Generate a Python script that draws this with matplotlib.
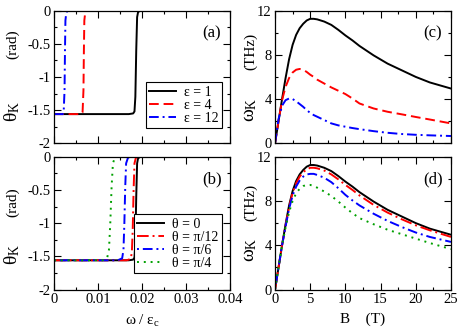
import matplotlib
matplotlib.use("Agg")
import matplotlib.pyplot as plt
from matplotlib.ticker import MultipleLocator

plt.rcParams['font.family'] = ['Liberation Serif', 'DejaVu Serif']
plt.rcParams['mathtext.fontset'] = 'custom'
plt.rcParams['mathtext.rm'] = 'Liberation Serif'
plt.rcParams['mathtext.it'] = 'Liberation Serif:italic'
plt.rcParams['axes.unicode_minus'] = False

# (a) Kerr angle vs frequency for several epsilon
w_e1 = [0, 0.0170, 0.0180, 0.0183, 0.0185, 0.0187, 0.0189, 0.0191, 0.0195, 0.04]
th_e1 = [-1.56, -1.56, -1.55, -1.52, -1.30, -0.60, -0.10, -0.03, 0, 0]
w_e4 = [0, 0.0062, 0.0065, 0.0067, 0.0068, 0.0069, 0.0071, 0.0074, 0.04]
th_e4 = [-1.56, -1.56, -1.53, -1.20, -0.60, -0.15, -0.03, 0, 0]
w_e12 = [0, 0.0020, 0.0022, 0.0024, 0.0025, 0.0026, 0.0028, 0.0031, 0.04]
th_e12 = [-1.56, -1.56, -1.53, -1.20, -0.60, -0.15, -0.03, 0, 0]

# (b) Kerr angle vs frequency for several theta
w_t0 = w_e1
th_t0 = th_e1
w_t12 = [0, 0.0165, 0.0174, 0.0177, 0.0179, 0.0181, 0.0183, 0.0186, 0.0190, 0.04]
th_t12 = [-1.56, -1.56, -1.54, -1.45, -1.10, -0.50, -0.10, -0.02, 0, 0]
w_t6 = [0, 0.0145, 0.0155, 0.0158, 0.0160, 0.0162, 0.0164, 0.0168, 0.0172, 0.04]
th_t6 = [-1.56, -1.56, -1.53, -1.40, -1.00, -0.45, -0.10, -0.02, 0, 0]
w_t4 = [0, 0.0110, 0.0121, 0.0125, 0.0128, 0.0131, 0.0134, 0.0138, 0.0143, 0.04]
th_t4 = [-1.56, -1.56, -1.52, -1.40, -1.00, -0.45, -0.10, -0.02, 0, 0]

# (c), (d) Kerr frequency vs magnetic field
B = [0, 0.5, 1, 1.5, 2, 2.5, 3, 3.5, 4, 4.5, 5, 5.5, 6, 7, 8, 9, 10, 11, 12, 14, 16, 18, 20, 22, 25]
wk_e1 = [0, 2.0, 4.0, 5.9, 7.6, 8.9, 9.8, 10.4, 10.8, 11.1, 11.25, 11.25, 11.2, 11.0,
         10.7, 10.25, 9.75, 9.3, 8.8, 7.95, 7.2, 6.6, 6.0, 5.5, 4.95]
wk_e4 = [0, 2.0, 3.9, 5.1, 5.9, 6.4, 6.65, 6.72, 6.65, 6.45, 6.2, 6.0, 5.75, 5.4,
         5.05, 4.75, 4.45, 4.05, 3.6, 3.15, 2.85, 2.62, 2.38, 2.15, 1.8]
wk_e12 = [0, 2.2, 3.4, 3.9, 4.05, 4.0, 3.8, 3.55, 3.3, 3.0, 2.75, 2.55, 2.4, 2.1,
          1.8, 1.62, 1.5, 1.38, 1.28, 1.1, 0.95, 0.84, 0.77, 0.72, 0.66]

wk_t0 = wk_e1
wk_t12 = [0, 2.0, 4.0, 5.8, 7.45, 8.75, 9.6, 10.2, 10.6, 10.85, 11.0, 11.0, 10.95, 10.75,
          10.4, 9.95, 9.45, 9.0, 8.5, 7.65, 6.95, 6.35, 5.8, 5.35, 4.75]
wk_t6 = [0, 2.0, 4.0, 5.7, 7.3, 8.5, 9.3, 9.85, 10.2, 10.4, 10.45, 10.45, 10.35, 10.1,
         9.7, 9.15, 8.55, 8.05, 7.6, 6.85, 6.2, 5.65, 5.15, 4.75, 4.3]
wk_t4 = [0, 2.0, 4.0, 5.6, 7.0, 8.0, 8.7, 9.1, 9.35, 9.45, 9.45, 9.35, 9.2, 8.85,
         8.45, 7.95, 7.4, 6.9, 6.45, 5.9, 5.4, 5.0, 4.6, 4.2, 3.65]

eps_labels = ['ε = 1', 'ε = 4', 'ε = 12']
theta_labels = ['θ = 0', 'θ = π/12', 'θ = π/6', 'θ = π/4']

green = '#00a000'
lw = 1.4

fig = plt.figure(figsize=(4.63, 3.35), dpi=100)
ax_a = fig.add_axes([0.1166, 0.5722, 0.380, 0.3964])
ax_b = fig.add_axes([0.1166, 0.1358, 0.380, 0.3964])
ax_c = fig.add_axes([0.594, 0.5722, 0.380, 0.3964])
ax_d = fig.add_axes([0.594, 0.1358, 0.380, 0.3964])

ax_a.plot(w_e1, th_e1, color='black', lw=lw, label=eps_labels[0])
ax_a.plot(w_e4, th_e4, color='red', lw=lw, ls=(0, (5, 2.5)), label=eps_labels[1])
ax_a.plot(w_e12, th_e12, color='blue', lw=lw, ls=(0, (5, 2, 1, 2)), label=eps_labels[2])

ax_b.plot(w_t0, th_t0, color='black', lw=lw, label=theta_labels[0])
ax_b.plot(w_t12, th_t12, color='red', lw=lw, ls=(0, (6, 2, 1, 2)), label=theta_labels[1])
ax_b.plot(w_t6, th_t6, color='blue', lw=lw, ls=(0, (1, 2, 5, 2)), label=theta_labels[2])
ax_b.plot(w_t4, th_t4, color=green, lw=lw, ls=(0, (1, 2.5)), label=theta_labels[3])

ax_c.plot(B, wk_e1, color='black', lw=lw)
ax_c.plot(B, wk_e4, color='red', lw=lw, ls=(0, (5, 2.5)))
ax_c.plot(B, wk_e12, color='blue', lw=lw, ls=(0, (5, 2, 1, 2)))

ax_d.plot(B, wk_t0, color='black', lw=lw)
ax_d.plot(B, wk_t12, color='red', lw=lw, ls=(0, (6, 2, 1, 2)))
ax_d.plot(B, wk_t6, color='blue', lw=lw, ls=(0, (1, 2, 5, 2)))
ax_d.plot(B, wk_t4, color=green, lw=lw, ls=(0, (1, 2.5)))

for ax in (ax_a, ax_b):
    ax.set_xlim(0, 0.04)
    ax.set_ylim(-2, 0)
    ax.xaxis.set_major_locator(MultipleLocator(0.01))
    ax.xaxis.set_minor_locator(MultipleLocator(0.005))
    ax.yaxis.set_minor_locator(MultipleLocator(0.25))
    ax.set_yticks([-2, -1.5, -1, -0.5, 0])
    ax.set_yticklabels(['-2', '-1.5', '-1', '-0.5', '0'])

for ax in (ax_c, ax_d):
    ax.set_xlim(0, 25)
    ax.set_ylim(0, 12)
    ax.xaxis.set_major_locator(MultipleLocator(5))
    ax.xaxis.set_minor_locator(MultipleLocator(2.5))
    ax.yaxis.set_major_locator(MultipleLocator(4))
    ax.yaxis.set_minor_locator(MultipleLocator(2))

# y labels: symbol and unit placed as in the original figure
ylab = [(ax_a, 'θ$_{\\rm K}$', '(rad)', -0.236, 0.243, 0.748),
        (ax_b, 'θ$_{\\rm K}$', '(rad)', -0.236, 0.267, 0.655),
        (ax_c, 'ω$_{\\rm K}$', '(THz)', -0.14, 0.251, 0.691),
        (ax_d, 'ω$_{\\rm K}$', '(THz)', -0.14, 0.297, 0.655)]
for ax, sym, unit, xl, ys, yu in ylab:
    ax.text(xl, ys, sym, transform=ax.transAxes, rotation=90, ha='center', va='center', fontsize=14)
    ax.text(xl, yu, unit, transform=ax.transAxes, rotation=90, ha='center', va='center', fontsize=11)

for ax in (ax_a, ax_b, ax_c, ax_d):
    ax.tick_params(which='both', direction='in', top=True, right=True, labelsize=10.5, pad=2.5)
    ax.tick_params(which='major', length=5, width=0.8)
    ax.tick_params(which='minor', length=2.5, width=0.8)
    for s in ax.spines.values():
        s.set_linewidth(0.9)

ax_a.tick_params(labelbottom=False)
ax_c.tick_params(labelbottom=False)
ax_b.set_xticks([0, 0.01, 0.02, 0.03, 0.04])
ax_b.set_xticklabels(['0', '0.01', '0.02', '0.03', '0.04'])
ax_b.set_xlabel('ω / ε$_{\\rm c}$', fontsize=11, labelpad=5)
ax_d.set_xlabel('B    (T)', fontsize=11, labelpad=5)

for ax, tag in ((ax_a, '(a)'), (ax_b, '(b)'), (ax_c, '(c)'), (ax_d, '(d)')):
    ax.text(0.898, 0.83, tag, transform=ax.transAxes, ha='center', va='center', fontsize=12)

leg_kw = dict(loc='lower right', fontsize=10, frameon=True, fancybox=False, framealpha=1,
              edgecolor='black', handlelength=1.9, handletextpad=0.6, labelspacing=0.0,
              borderpad=0.25, borderaxespad=0)
la = ax_a.legend(bbox_to_anchor=(0.955, 0.115), **leg_kw)
lb = ax_b.legend(bbox_to_anchor=(0.955, 0.124), **leg_kw)
for lg in (la, lb):
    lg.get_frame().set_linewidth(0.8)

fig.savefig('out.png', dpi=100)
